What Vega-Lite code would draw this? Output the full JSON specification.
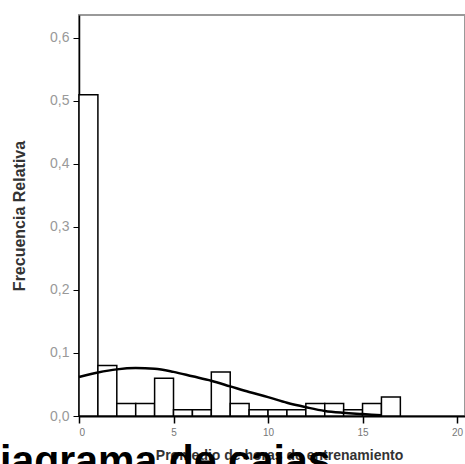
{
  "$schema": "https://vega.github.io/schema/vega-lite/v6.json",
  "width": 386,
  "height": 401,
  "autosize": "none",
  "padding": {"left": 79, "top": 15, "right": 0, "bottom": 48},
  "background": "white",
  "title": {
    "text": "diagrama de cajas",
    "orient": "bottom",
    "anchor": "start",
    "frame": "group",
    "font": "Liberation Sans",
    "fontSize": 41,
    "fontWeight": "bold",
    "color": "black",
    "baseline": "alphabetic",
    "dx": -104,
    "offset": 12
  },
  "datasets": {
    "bins": [
      {"bin_start": 0, "bin_end": 1, "freq": 0.51},
      {"bin_start": 1, "bin_end": 2, "freq": 0.08},
      {"bin_start": 2, "bin_end": 3, "freq": 0.02},
      {"bin_start": 3, "bin_end": 4, "freq": 0.02},
      {"bin_start": 4, "bin_end": 5, "freq": 0.06},
      {"bin_start": 5, "bin_end": 6, "freq": 0.01},
      {"bin_start": 6, "bin_end": 7, "freq": 0.01},
      {"bin_start": 7, "bin_end": 8, "freq": 0.07},
      {"bin_start": 8, "bin_end": 9, "freq": 0.02},
      {"bin_start": 9, "bin_end": 10, "freq": 0.01},
      {"bin_start": 10, "bin_end": 11, "freq": 0.01},
      {"bin_start": 11, "bin_end": 12, "freq": 0.01},
      {"bin_start": 12, "bin_end": 13, "freq": 0.02},
      {"bin_start": 13, "bin_end": 14, "freq": 0.02},
      {"bin_start": 14, "bin_end": 15, "freq": 0.01},
      {"bin_start": 15, "bin_end": 16, "freq": 0.02},
      {"bin_start": 16, "bin_end": 17, "freq": 0.03}
    ],
    "curve": [
      {"x": 0, "density": 0.062},
      {"x": 1, "density": 0.069},
      {"x": 2, "density": 0.074},
      {"x": 3, "density": 0.076},
      {"x": 4, "density": 0.075},
      {"x": 5, "density": 0.070},
      {"x": 6, "density": 0.063},
      {"x": 7, "density": 0.056},
      {"x": 8, "density": 0.047},
      {"x": 9, "density": 0.038},
      {"x": 10, "density": 0.030},
      {"x": 11, "density": 0.021},
      {"x": 12, "density": 0.014},
      {"x": 13, "density": 0.008},
      {"x": 14, "density": 0.005},
      {"x": 15, "density": 0.003},
      {"x": 16, "density": 0.001}
    ]
  },
  "layer": [
    {
      "data": {"name": "bins"},
      "mark": {"type": "rect", "fill": "white", "stroke": "black", "strokeWidth": 1.5},
      "encoding": {
        "x": {
          "field": "bin_start", "type": "quantitative",
          "scale": {"domain": [0, 20.42], "nice": false, "zero": false},
          "axis": {
            "values": [0, 5, 10, 15, 20],
            "title": "Promedio de horas de entrenamiento",
            "titleFont": "Liberation Sans", "titleFontSize": 14, "titleFontWeight": "bold", "titleColor": "#333",
            "titlePadding": 11,
            "titleAnchor": "middle",
            "titleX": 200,
            "labelFont": "Liberation Sans", "labelFontSize": 10, "labelColor": "#777",
            "labelPadding": 4,
            "domainColor": "black", "domainWidth": 2,
            "tickColor": "black", "tickSize": 7, "tickWidth": 1.5,
            "grid": false
          }
        },
        "x2": {"field": "bin_end"},
        "y": {
          "field": "freq", "type": "quantitative",
          "scale": {"domain": [0, 0.6365], "nice": false},
          "axis": {
            "values": [0, 0.1, 0.2, 0.3, 0.4, 0.5, 0.6],
            "labelExpr": "replace(format(datum.value, '.1f'), '.', ',')",
            "title": "Frecuencia Relativa",
            "titleFont": "Liberation Sans", "titleFontSize": 16, "titleFontWeight": "bold", "titleColor": "#333",
            "titlePadding": 22,
            "labelFont": "Liberation Sans", "labelFontSize": 14, "labelColor": "#999",
            "labelPadding": 4,
            "domainColor": "black", "domainWidth": 1.5,
            "tickColor": "black", "tickSize": 6, "tickWidth": 1,
            "grid": false
          }
        },
        "y2": {"datum": 0}
      }
    },
    {
      "data": {"name": "curve"},
      "mark": {"type": "line", "color": "black", "strokeWidth": 2.5, "interpolate": "monotone"},
      "encoding": {
        "x": {"field": "x", "type": "quantitative"},
        "y": {"field": "density", "type": "quantitative"}
      }
    }
  ],
  "config": {
    "view": {"stroke": "#999", "strokeWidth": 2}
  }
}
